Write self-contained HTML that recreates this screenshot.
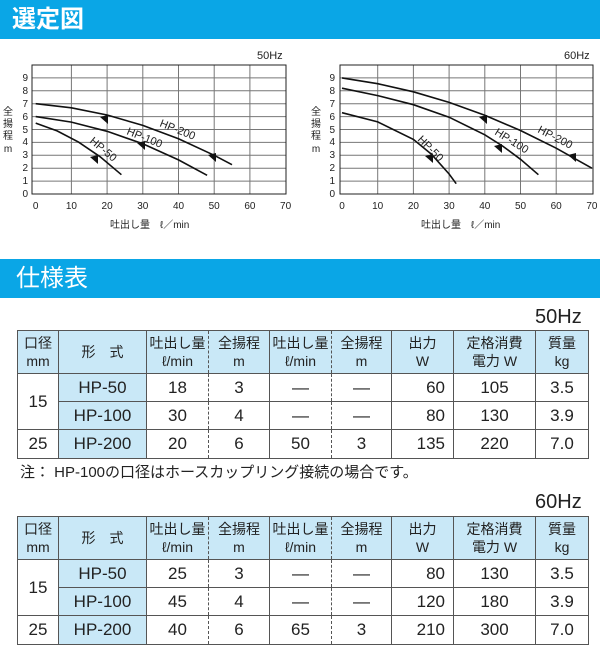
<!DOCTYPE html>
<html><head><meta charset="utf-8"><style>
body{margin:0;width:600px;height:670px;background:#fff;position:relative;overflow:hidden;font-family:"Liberation Sans","Noto Sans CJK JP",sans-serif;color:#222}
.bar{position:absolute;left:0;width:600px;height:39px;background:#0aa6e6;color:#fff;font-weight:bold;font-size:24px;line-height:39px}
.hz{position:absolute;font-size:20px;color:#222}
table{position:absolute;left:17px;border-collapse:collapse;table-layout:fixed;font-size:17px}
td{border:1px solid #555;text-align:center;padding:0;line-height:18px}
td.h{background:#c9e8f7;font-size:14px}
td.b{background:#c9e8f7}
.dl{border-right:1px dashed #555}
.dr{border-left:1px dashed #555}
.r{text-align:right;padding-right:8px}
</style></head><body>
<div class="bar" style="top:0"><span style="margin-left:12px">選定図</span></div>
<div class="bar" style="top:259px;font-weight:normal"><span style="margin-left:16px">仕様表</span></div>

<svg width="600" height="250" style="position:absolute;left:0;top:0" font-family="Liberation Sans, Noto Sans CJK JP, sans-serif">
<g stroke="#777" stroke-width="1" fill="none">
<path d="M71.4 65V194M107.1 65V194M142.8 65V194M178.5 65V194M214.2 65V194M249.9 65V194"/>
<path d="M32 181.1H286M32 168.2H286M32 155.3H286M32 142.4H286M32 129.5H286M32 116.6H286M32 103.7H286M32 90.8H286M32 77.9H286"/>
<path d="M377.7 65V194M413.4 65V194M449.1 65V194M484.8 65V194M520.5 65V194M556.2 65V194"/>
<path d="M340 181.1H593M340 168.2H593M340 155.3H593M340 142.4H593M340 129.5H593M340 116.6H593M340 103.7H593M340 90.8H593M340 77.9H593"/>
</g>
<rect x="32" y="65" width="254" height="129" fill="none" stroke="#222"/>
<rect x="340" y="65" width="253" height="129" fill="none" stroke="#222"/>
<g stroke="#111" stroke-width="1.6" fill="none">
<polyline points="35.7,103.7 71.4,107.8 107.1,115 142.8,125.4 178.5,138.8 214.2,155.3 232,164.7"/>
<polyline points="35.7,116.6 71.4,122.1 107.1,131.3 142.8,143.8 178.5,159.9 207.1,175.3"/>
<polyline points="35.7,123.1 57.1,130.9 78.5,142.1 100,156.7 121.4,174.7"/>
<polyline points="342,77.9 377.7,83.7 413.4,91.8 449.1,102.4 484.8,115.3 520.5,130.5 556.2,148.2 591.9,168.2"/>
<polyline points="342,88.2 377.7,95.6 413.4,104.7 449.1,117.2 484.8,134.8 502.7,146.1 520.5,159.3 538.4,174.7"/>
<polyline points="342,112.7 377.7,121.9 413.4,139.4 431.3,154.1 449.1,174 456.2,183.7"/>
</g>
<g fill="#111">
<path d="M100 117l8-2v9z"/><path d="M137 143l8-2v9z"/><path d="M208 155l8-2v9z"/><path d="M90 157l8-2v9z"/>
<path d="M479 117l8-2v9z"/><path d="M494 146l8-2v9z"/><path d="M568 155l8-2v9z"/><path d="M425 156l8-2v9z"/>
</g>
<g font-size="11" fill="#222">
<text x="159" y="126" transform="rotate(22 159 126)">HP-200</text>
<text x="126" y="134" transform="rotate(22 126 134)">HP-100</text>
<text x="89" y="142" transform="rotate(40 89 142)">HP-50</text>
<text x="537" y="132" transform="rotate(27 537 132)">HP-200</text>
<text x="494" y="134" transform="rotate(32 494 134)">HP-100</text>
<text x="417" y="140" transform="rotate(45 417 140)">HP-50</text>
</g>
<g font-size="10" fill="#222" text-anchor="middle">
<text y="209"><tspan x="35.7">0</tspan><tspan x="71.4">10</tspan><tspan x="107.1">20</tspan><tspan x="142.8">30</tspan><tspan x="178.5">40</tspan><tspan x="214.2">50</tspan><tspan x="249.9">60</tspan><tspan x="285.6">70</tspan></text>
<text y="209"><tspan x="342">0</tspan><tspan x="377.7">10</tspan><tspan x="413.4">20</tspan><tspan x="449.1">30</tspan><tspan x="484.8">40</tspan><tspan x="520.5">50</tspan><tspan x="556.2">60</tspan><tspan x="591.9">70</tspan></text>
</g>
<g font-size="10" fill="#222" text-anchor="end">
<text x="28"><tspan x="28" y="197">0</tspan><tspan x="28" y="184">1</tspan><tspan x="28" y="171">2</tspan><tspan x="28" y="158">3</tspan><tspan x="28" y="145">4</tspan><tspan x="28" y="133">5</tspan><tspan x="28" y="120">6</tspan><tspan x="28" y="107">7</tspan><tspan x="28" y="94">8</tspan><tspan x="28" y="81">9</tspan></text>
<text x="335"><tspan x="335" y="197">0</tspan><tspan x="335" y="184">1</tspan><tspan x="335" y="171">2</tspan><tspan x="335" y="158">3</tspan><tspan x="335" y="145">4</tspan><tspan x="335" y="133">5</tspan><tspan x="335" y="120">6</tspan><tspan x="335" y="107">7</tspan><tspan x="335" y="94">8</tspan><tspan x="335" y="81">9</tspan></text>
</g>
<g font-size="10" fill="#222" text-anchor="middle">
<text x="8" y="115">全</text><text x="8" y="127">揚</text><text x="8" y="139">程</text><text x="8" y="152">m</text>
<text x="316" y="115">全</text><text x="316" y="127">揚</text><text x="316" y="139">程</text><text x="316" y="152">m</text>
</g>
<text x="110" y="228" font-size="10" fill="#222">吐出し量　ℓ／min</text>
<text x="421" y="228" font-size="10" fill="#222">吐出し量　ℓ／min</text>
<text x="257" y="59" font-size="11" fill="#222">50Hz</text>
<text x="564" y="59" font-size="11" fill="#222">60Hz</text>
</svg>

<div class="hz" style="left:535px;top:306px">50Hz</div>
<table style="top:330px;width:571px">
<colgroup><col style="width:41px"><col style="width:88px"><col style="width:62px"><col style="width:61px"><col style="width:62px"><col style="width:60px"><col style="width:62px"><col style="width:82px"><col style="width:53px"></colgroup>
<tr style="height:43px"><td class="h">口径<br>mm</td><td class="h">形　式</td><td class="h dl">吐出し量<br>ℓ/min</td><td class="h dr">全揚程<br>m</td><td class="h dl">吐出し量<br>ℓ/min</td><td class="h dr">全揚程<br>m</td><td class="h">出力<br>W</td><td class="h">定格消費<br>電力 W</td><td class="h">質量<br>kg</td></tr>
<tr style="height:28px"><td rowspan="2" style="border-bottom:1px solid #555">15</td><td class="b">HP-50</td><td class="dl">18</td><td class="dr">3</td><td class="dl">—</td><td class="dr">—</td><td class="r">60</td><td>105</td><td>3.5</td></tr>
<tr style="height:28px"><td class="b">HP-100</td><td class="dl">30</td><td class="dr">4</td><td class="dl">—</td><td class="dr">—</td><td class="r">80</td><td>130</td><td>3.9</td></tr>
<tr style="height:29px"><td>25</td><td class="b">HP-200</td><td class="dl">20</td><td class="dr">6</td><td class="dl">50</td><td class="dr">3</td><td class="r">135</td><td>220</td><td>7.0</td></tr>
</table>
<div style="position:absolute;left:20px;top:461px;font-size:15px">注： HP-100の口径はホースカップリング接続の場合です。</div>

<div class="hz" style="left:535px;top:491px">60Hz</div>
<table style="top:516px;width:571px">
<colgroup><col style="width:41px"><col style="width:88px"><col style="width:62px"><col style="width:61px"><col style="width:62px"><col style="width:60px"><col style="width:62px"><col style="width:82px"><col style="width:53px"></colgroup>
<tr style="height:43px"><td class="h">口径<br>mm</td><td class="h">形　式</td><td class="h dl">吐出し量<br>ℓ/min</td><td class="h dr">全揚程<br>m</td><td class="h dl">吐出し量<br>ℓ/min</td><td class="h dr">全揚程<br>m</td><td class="h">出力<br>W</td><td class="h">定格消費<br>電力 W</td><td class="h">質量<br>kg</td></tr>
<tr style="height:28px"><td rowspan="2">15</td><td class="b">HP-50</td><td class="dl">25</td><td class="dr">3</td><td class="dl">—</td><td class="dr">—</td><td class="r">80</td><td>130</td><td>3.5</td></tr>
<tr style="height:28px"><td class="b">HP-100</td><td class="dl">45</td><td class="dr">4</td><td class="dl">—</td><td class="dr">—</td><td class="r">120</td><td>180</td><td>3.9</td></tr>
<tr style="height:29px"><td>25</td><td class="b">HP-200</td><td class="dl">40</td><td class="dr">6</td><td class="dl">65</td><td class="dr">3</td><td class="r">210</td><td>300</td><td>7.0</td></tr>
</table>
</body></html>
